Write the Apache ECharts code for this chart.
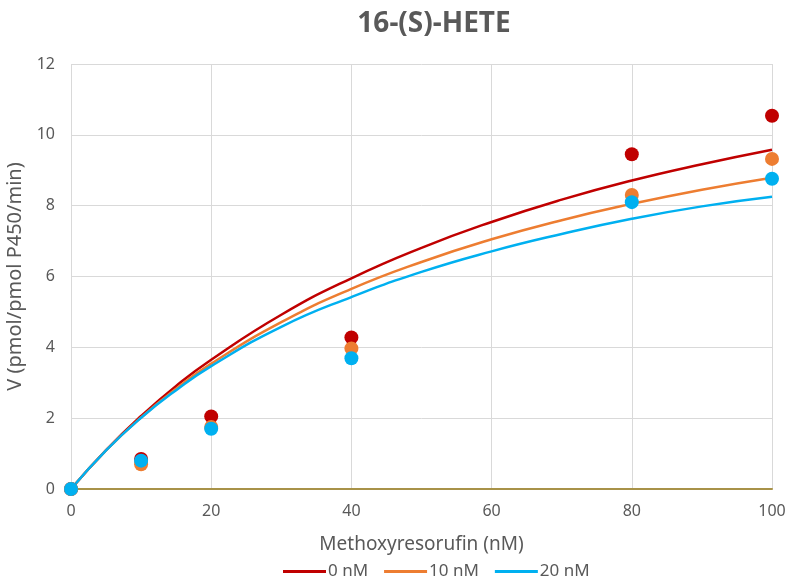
<!DOCTYPE html>
<html><head><meta charset="utf-8">
<script src="https://cdn.jsdelivr.net/npm/echarts@6/dist/echarts.min.js"></script>
<style>html,body{margin:0;padding:0;background:#fff}#c{width:790px;height:583px}</style>
</head><body><div id="c"></div>
<script>
// Measured points
const pointX = [0, 10, 20, 40, 80, 100];
const pts0 = [0, 0.85, 2.05, 4.28, 9.45, 10.54];
const pts10 = [0, 0.70, 1.75, 3.97, 8.30, 9.32];
const pts20 = [0, 0.80, 1.70, 3.69, 8.10, 8.76];
// Fitted curves
const curveX = [0, 5, 10, 15, 20, 30, 40, 50, 60, 70, 80, 90, 100];
const fit0 = [0, 1.10, 2.06, 2.91, 3.65, 4.92, 5.95, 6.81, 7.54, 8.17, 8.71, 9.17, 9.58];
const fit10 = [0, 1.09, 2.02, 2.83, 3.54, 4.71, 5.65, 6.41, 7.05, 7.59, 8.05, 8.45, 8.79];
const fit20 = [0, 1.09, 2.01, 2.79, 3.47, 4.58, 5.42, 6.13, 6.71, 7.20, 7.63, 7.98, 8.25];
const names = ['0 nM', '10 nM', '20 nM'];
const colors = ['#c00000', '#ed7d31', '#00b0f0'];

const pair = (xs, ys) => xs.map((x, i) => [x, ys[i]]);
const fits = [fit0, fit10, fit20];
const pts = [pts0, pts10, pts20];
const font = 'Noto Sans';
const gray = '#595959';

const series = [];
fits.forEach((f, i) => series.push({
  name: names[i], type: 'line', smooth: true, showSymbol: false, symbol: 'none',
  data: pair(curveX, f), lineStyle: { color: colors[i], width: 2.5 }, itemStyle: { color: colors[i] },
  z: 2, silent: true
}));
pts.forEach((p, i) => series.push({
  name: 'pts ' + names[i], type: 'scatter', symbol: 'circle', symbolSize: 14,
  data: pair(pointX, p), itemStyle: { color: colors[i], opacity: 1 }, z: 3
}));

const chart = echarts.init(document.getElementById('c'));
chart.setOption({
  animation: false,
  backgroundColor: '#fff',
  title: {
    text: '16-(S)-HETE', left: 429, top: 5, textAlign: 'center',
    textStyle: { fontFamily: font, fontWeight: 'bold', fontSize: 28, color: gray }
  },
  legend: {
    data: names.map((n, i) => ({ name: n, icon: 'rect', itemStyle: { color: colors[i] } })),
    left: 278, top: 558, itemWidth: 43, itemHeight: 3, itemGap: 16,
    textStyle: { fontFamily: font, fontSize: 17, color: gray, padding: [0, 0, 0, -3] }
  },
  grid: { left: 71, right: 18, top: 64, bottom: 94, containLabel: false, outerBoundsMode: 'none' },
  xAxis: {
    type: 'value', min: 0, max: 100, interval: 20,
    name: 'Methoxyresorufin (nM)', nameLocation: 'middle', nameGap: 46,
    nameTextStyle: { fontFamily: font, fontSize: 19, color: gray },
    axisLine: { show: true, onZero: true, lineStyle: { color: '#a89248', width: 2 } },
    axisTick: { show: false },
    axisLabel: { fontFamily: font, fontSize: 16, color: gray, margin: 14 },
    splitLine: { show: true, lineStyle: { color: '#d9d9d9', width: 1 } }
  },
  yAxis: {
    type: 'value', min: 0, max: 12, interval: 2,
    name: 'V (pmol/pmol P450/min)', nameLocation: 'middle', nameGap: 38,
    nameTextStyle: { fontFamily: font, fontSize: 20, color: gray },
    axisLine: { show: false }, axisTick: { show: false },
    axisLabel: { fontFamily: font, fontSize: 16, color: gray, margin: 16 },
    splitLine: { show: true, lineStyle: { color: '#d9d9d9', width: 1 } }
  },
  series: series
});
</script></body></html>
